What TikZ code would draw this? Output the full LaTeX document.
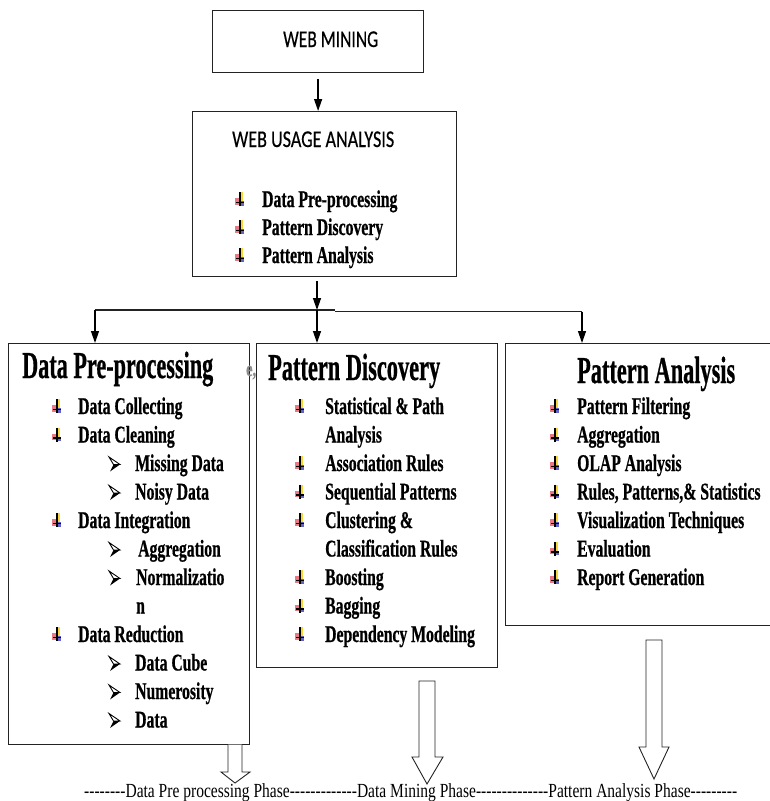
\documentclass[tikz,border=0pt]{standalone}
\usepackage{fontspec}
\setmainfont{Liberation Serif}[Ligatures=TeXOff]
\newfontfamily\heavyfont{Liberation Serif Bold}[FakeBold=0.8, Ligatures=TeXOff]
\newfontfamily\calfont{Carlito}[FakeBold=0.5]
\usetikzlibrary{arrows.meta,calc}
\definecolor{bulY}{RGB}{248,214,60}
\definecolor{bulR}{RGB}{232,96,110}
\definecolor{bulB}{RGB}{70,70,190}
\definecolor{lineC}{RGB}{35,35,35}
\newcommand\sq[1]{\scalebox{0.655}[1]{#1}}
\newcommand\fitw[2]{\resizebox{#1}{\height}{#2}}
\tikzset{
  frame/.style={draw=lineC, line width=1.2pt, inner sep=0pt, anchor=north west},
  itemtxt/.style={anchor=base west, inner sep=0pt, font=\heavyfont\fontsize{24}{26}\selectfont},
  titletxt/.style={anchor=base west, inner sep=0pt, font=\heavyfont\fontsize{38}{42}\selectfont},
  headtxt/.style={anchor=base west, inner sep=0pt, font=\calfont\fontsize{24}{26}\selectfont},
  phasetxt/.style={anchor=base west, inner sep=0pt, font=\fontsize{20}{22}\selectfont},
  arr/.style={line width=1.3pt, -{Triangle[length=12pt,width=8pt]}},
  hollow/.style={draw=lineC, line width=0.9pt, fill=white},
  bul/.pic={
    \fill[bulY] (-0.5,-15) rectangle (2.5,-6);
    \fill[bulR, opacity=0.85] (-5,-9) rectangle (-0.5,-2.5);
    \fill[bulB, opacity=0.85] (-0.5,-6) rectangle (4,-1.5);
    \draw[line width=1.3pt] (0,-15) -- (0,-1);
    \draw[line width=1.3pt] (-4,-4.5) -- (4,-4.5);
  },
  subarr/.pic={
    \draw[line width=0.9pt, line join=miter] (0,-14) -- (11,-6.5) -- (4.5,-6.5) -- cycle;
    \fill (11,-6.5) -- (1,0.5) -- (4.5,-6.5) -- cycle;
  }
}
\begin{document}
\begin{tikzpicture}[x=1pt,y=-1pt]
\useasboundingbox (0,0) rectangle (769,801);

% ---------- boxes ----------
\node[frame, minimum width=211pt, minimum height=62pt] (wm) at (212,10) {};
\node[frame, minimum width=264pt, minimum height=165pt] (wua) at (192,111) {};
\node[frame, minimum width=241pt, minimum height=401pt] (dpp) at (8,343) {};
\node[frame, minimum width=241pt, minimum height=324pt] (pd) at (256,343) {};
\node[frame, minimum width=267pt, minimum height=282pt] (pa) at (505,343) {};

% ---------- top texts ----------
\node[headtxt] (wmt) at (283,47) {\fitw{95pt}{WEB MINING}};
\node[headtxt] (wuat) at (232,147) {\fitw{162pt}{WEB USAGE ANALYSIS}};
\foreach \yy/\tt/\nm in {207/Data Pre-processing/wa, 235/Pattern Discovery/wb, 263/Pattern Analysis/wc}{
  \pic at (240,\yy) {bul};
  \node[itemtxt] (\nm) at (262,\yy) {\sq{\tt}};
}

% ---------- connectors ----------
\coordinate (hub) at (317,310);
\coordinate (dl) at (95,310);
\coordinate (stepa) at (335,310);
\coordinate (stepb) at (335,311.5);
\coordinate (dr) at (582,311.5);
\draw[arr] ($(wm.south)+(0,6)$) -- (wm.south |- wua.north);
\draw[arr] ($(wua.south -| hub)+(0,4)$) -- (hub);
\draw[line width=1.2pt, lineC] (dl) -- (stepa);
\draw[line width=1.2pt, lineC] (stepb) -- (dr);
\draw[arr] (dl) -- (dl |- dpp.north);
\draw[arr] (hub) -- (hub |- pd.north);
\draw[arr] (dr) -- (dr |- pa.north);

% ---------- Data Pre-processing ----------
\node[titletxt] (dppt) at (22,378) {\fitw{191pt}{Data Pre-processing}};
\foreach \yy/\tt/\nm in {414/Data Collecting/d1, 442.5/Data Cleaning/d2, 528/Data Integration/d5, 642/Data Reduction/d9}{
  \pic at (57,\yy) {bul};
  \node[itemtxt] (\nm) at (78,\yy) {\sq{\tt}};
}
\foreach \yy/\tt/\nm/\xx in {471/Missing Data/d3/135, 499.5/Noisy Data/d4/135, 556.5/Aggregation/d6/138, 585/Normalizatio/d7/136, 670.5/Data Cube/d10/135, 699/Numerosity/d11/135, 727.5/Data/d12/135}{
  \pic at (109,\yy) {subarr};
  \node[itemtxt] (\nm) at (\xx,\yy) {\sq{\tt}};
}
\node[itemtxt] (d8) at (136,613.5) {\sq{n}};
\node[anchor=base west, inner sep=0pt, font=\heavyfont\fontsize{22}{24}\selectfont, text=black!45] (frag) at (246,376) {\sq{e,}};

% ---------- Pattern Discovery ----------
\node[titletxt] (pdt) at (268,380) {\fitw{172pt}{Pattern Discovery}};
\foreach \yy/\tt/\nm in {414/Statistical \& Path/p1, 471/Association Rules/p3, 499.5/Sequential Patterns/p4, 528/Clustering \&/p5, 585/Boosting/p7, 613.5/Bagging/p8, 642/Dependency Modeling/p9}{
  \pic at (300,\yy) {bul};
  \node[itemtxt] (\nm) at (325,\yy) {\sq{\tt}};
}
\node[itemtxt] (p2) at (325,442.5) {\sq{Analysis}};
\node[itemtxt] (p6) at (325,556.5) {\sq{Classification Rules}};

% ---------- Pattern Analysis ----------
\node[titletxt] (pat) at (577,383) {\fitw{158pt}{Pattern Analysis}};
\foreach \yy/\tt/\nm in {414/Pattern Filtering/a1, 442.5/Aggregation/a2, 471/OLAP Analysis/a3, 499.5/{Rules, Patterns,\& Statistics}/a4, 528/Visualization Techniques/a5, 556.5/Evaluation/a6, 585/Report Generation/a7}{
  \pic at (555,\yy) {bul};
  \node[itemtxt] (\nm) at (577,\yy) {\sq{\tt}};
}

% ---------- hollow block arrows ----------
\draw[hollow] (228,744.6) -- (228,772) -- (221,772) -- (235,783) -- (250,772) -- (242,772) -- (242,744.6);
\draw[hollow] (419,681) -- (419,757) -- (412,757) -- (427,784) -- (443,757) -- (435,757) -- (435,681) -- cycle;
\draw[hollow] (646,640) -- (646,747) -- (639,747) -- (654,779) -- (669,747) -- (662,747) -- (662,640) -- cycle;

% ---------- phase line ----------
\node[phasetxt] (phase) at (84,797) {\fitw{653pt}{--------Data Pre processing Phase-------------Data Mining Phase--------------Pattern Analysis Phase---------}};
\end{tikzpicture}
\end{document}
